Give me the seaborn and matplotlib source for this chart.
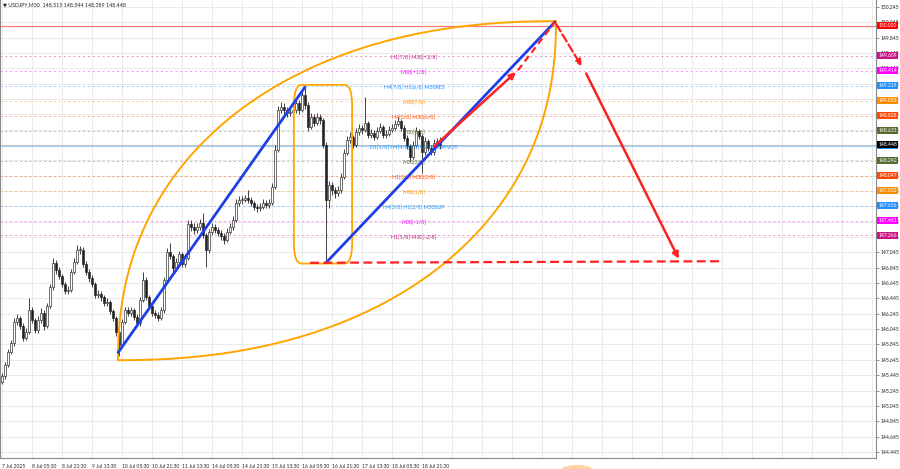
import numpy as np
import pandas as pd
import matplotlib
matplotlib.use("Agg")
import matplotlib.pyplot as plt
import seaborn as sns
from matplotlib.patches import FancyBboxPatch, Ellipse

# ---------------- data ----------------
first_open = 145.36
closes = [145.43, 145.58, 145.75, 145.86, 146.14, 146.19, 146.09, 145.93, 146.01, 146.29,
          146.16, 146.03, 146.16, 146.26, 146.09, 146.35, 146.59, 146.91, 146.82, 146.74,
          146.63, 146.54, 146.56, 146.79, 146.92, 147.08, 147.08, 146.89, 146.79, 146.71,
          146.63, 146.49, 146.50, 146.46, 146.39, 146.40, 146.28, 146.19, 146.01, 145.84,
          146.14, 146.29, 146.26, 146.29, 146.20, 146.12, 146.43, 146.69, 146.46, 146.35,
          146.26, 146.23, 146.19, 146.29, 146.69, 147.05, 147.00, 146.84, 146.92, 147.02,
          146.89, 146.97, 147.42, 147.38, 147.34, 147.38, 147.43, 147.27, 147.08, 147.31,
          147.38, 147.34, 147.30, 147.26, 147.21, 147.31, 147.38, 147.47, 147.69, 147.73,
          147.73, 147.75, 147.73, 147.69, 147.64, 147.62, 147.64, 147.69, 147.66, 147.69,
          147.90, 148.38, 148.90, 148.94, 148.90, 148.86, 148.88, 148.90, 148.99, 148.90,
          149.10, 148.97, 148.68, 148.81, 148.73, 148.81, 148.77, 148.45, 147.73, 147.92,
          147.86, 147.82, 147.86, 148.03, 148.34, 148.51, 148.55, 148.45, 148.62, 148.67,
          148.64, 148.73, 148.58, 148.60, 148.55, 148.63, 148.68, 148.58, 148.59, 148.64,
          148.67, 148.72, 148.76, 148.67, 148.54, 148.43, 148.29, 148.45, 148.63, 148.56,
          148.35, 148.50, 148.41, 148.35, 148.47, 148.50, 148.448]
highs = [145.47, 145.62, 145.79, 145.90, 146.19, 146.24, 146.22, 146.12, 146.06, 146.45,
         146.33, 146.19, 146.21, 146.32, 146.29, 146.39, 146.63, 146.97, 146.95, 146.86,
         146.77, 146.66, 146.61, 146.83, 146.97, 147.14, 147.13, 147.11, 146.93, 146.83,
         146.75, 146.66, 146.56, 146.54, 146.49, 146.45, 146.43, 146.31, 146.22, 146.04,
         146.18, 146.34, 146.33, 146.34, 146.32, 146.24, 146.47, 146.79, 146.72, 146.49,
         146.38, 146.30, 146.27, 146.33, 146.73, 147.10, 147.17, 147.03, 146.97, 147.07,
         147.05, 147.02, 147.47, 147.47, 147.43, 147.43, 147.48, 147.56, 147.30, 147.35,
         147.43, 147.42, 147.38, 147.34, 147.30, 147.36, 147.43, 147.52, 147.74, 147.78,
         147.78, 147.80, 147.86, 147.77, 147.72, 147.68, 147.69, 147.74, 147.73, 147.74,
         147.95, 148.44, 148.96, 149.01, 148.99, 148.94, 148.93, 148.96, 149.05, 149.03,
         149.15, 149.20, 149.00, 148.86, 148.85, 148.86, 148.85, 148.80, 148.48, 147.97,
         147.96, 147.90, 147.91, 148.08, 148.39, 148.56, 148.61, 148.58, 148.67, 148.72,
         148.71, 149.07, 148.76, 148.65, 148.64, 148.68, 148.73, 148.71, 148.64, 148.69,
         148.72, 148.77, 148.81, 148.79, 148.70, 148.57, 148.46, 148.50, 148.68, 148.66,
         148.59, 148.55, 148.53, 148.44, 148.52, 148.54, 148.544]
lows = [145.33, 145.40, 145.55, 145.72, 145.83, 146.10, 146.05, 145.89, 145.90, 145.98,
        146.12, 145.99, 146.00, 146.13, 146.04, 146.06, 146.32, 146.56, 146.77, 146.70,
        146.59, 146.50, 146.50, 146.53, 146.76, 146.89, 147.02, 146.85, 146.75, 146.66,
        146.59, 146.45, 146.45, 146.41, 146.35, 146.35, 146.24, 146.15, 145.96, 145.70,
        145.81, 146.11, 146.21, 146.22, 146.16, 146.08, 146.09, 146.40, 146.42, 146.31,
        146.22, 146.19, 146.15, 146.16, 146.26, 146.66, 146.96, 146.79, 146.80, 146.88,
        146.85, 146.86, 146.94, 147.33, 147.29, 147.30, 147.34, 147.23, 146.86, 147.04,
        147.27, 147.30, 147.26, 147.21, 147.16, 147.18, 147.28, 147.34, 147.44, 147.65,
        147.68, 147.70, 147.69, 147.65, 147.60, 147.57, 147.58, 147.61, 147.62, 147.63,
        147.66, 147.87, 148.35, 148.86, 148.85, 148.81, 148.82, 148.84, 148.86, 148.85,
        148.87, 148.92, 148.63, 148.65, 148.69, 148.70, 148.72, 148.40, 146.95, 147.62,
        147.80, 147.76, 147.78, 147.82, 148.00, 148.31, 148.47, 148.40, 148.42, 148.58,
        148.59, 148.61, 148.54, 148.54, 148.51, 148.52, 148.60, 148.54, 148.54, 148.56,
        148.61, 148.64, 148.69, 148.63, 148.50, 148.39, 148.24, 148.26, 148.42, 148.52,
        148.08, 148.31, 148.37, 148.31, 148.32, 148.44, 148.389]

time_labels = ["7 Jul 2025", "8 Jul 05:30", "8 Jul 21:30", "9 Jul 13:30", "10 Jul 05:30",
               "10 Jul 21:30", "11 Jul 13:30", "14 Jul 05:30", "14 Jul 21:30", "15 Jul 13:30",
               "16 Jul 05:30", "16 Jul 21:30", "17 Jul 13:30", "18 Jul 05:30", "18 Jul 21:30"]
price_ticks = [150.245, 150.045, 149.845, 149.645, 149.445, 149.245, 149.045, 148.845,
               148.645, 148.445, 148.245, 148.045, 147.845, 147.645, 147.445, 147.245,
               147.045, 146.845, 146.645, 146.445, 146.245, 146.045, 145.845, 145.645,
               145.445, 145.245, 145.045, 144.845, 144.645, 144.445]

level_prices = [149.609, 149.414, 149.219, 149.023, 148.828, 148.633, 148.438,
                148.242, 148.047, 147.852, 147.656, 147.461, 147.266]
level_names = ["H1[7/8] M30[+2/8]", "M30[+1/8]", "H4[7/8] H1[6/8] M30RES", "M30[7/8]",
               "H4[5/8] M30[6/8]", "M30[5/8]", "D1[1/8] H4[4/8] H1[4/8] M30PIVOT",
               "M30[3/8]", "H1[3/8] M30[2/8]", "M30[1/8]", "H4[3/8] H1[2/8] M30SUP",
               "M30[-1/8]", "H1[1/8] M30[-2/8]"]
level_colors = ["#c71585", "#ff00ff", "#1e90ff", "#ff8c00", "#ff4500", "#556b2f", "#1e90ff",
                "#556b2f", "#ff4500", "#ff8c00", "#1e90ff", "#ff00ff", "#c71585"]
target_price = 150.000
last_price = 148.448
title = "\u25bc USDJPY,M30  148.515 148.544 148.389 148.448"

# drawn objects (bar index, price)
lens_a = (38.67, 145.64)
lens_b = (184.67, 150.06)
lens_power = 2.2
box_x, box_w = 97.3, 19.4
box_lo, box_hi = 146.90, 149.23
trend1 = ([38.7, 101.0], [145.74, 149.20])
trend2 = ([108.0, 184.3], [146.91, 150.05])

# ---------------- figure ----------------
sns.set_style("white")
FONT = ["Lato", "DejaVu Sans"]
plt.rcParams["font.family"] = FONT
FS = 3.8
FS_AX = 3.6
fig = plt.figure(figsize=(9, 4.69), dpi=100)
ax = fig.add_axes([0.0, 11 / 469, 876 / 900, 458 / 469])
ax.set_xlim(-2 / 3, 874 / 3)
ax.set_ylim(144.365, 150.336)

n = len(closes)
xs = np.arange(n)
opens = [first_open] + closes[:-1]

# grid
for k in range(0, 30):
    ax.axvline(k * 10, color="#e6e6e6", lw=0.6, zorder=0)
for p in price_ticks:
    ax.axhline(p, color="#e6e6e6", lw=0.6, zorder=0)

# Murrey levels
for p, c in zip(level_prices, level_colors):
    if p == 148.438:
        ax.axhline(p, color="#a8d4ff", lw=0.9, zorder=1)
    else:
        ax.axhline(p, color=c, lw=0.7, ls=(0, (2, 3)), alpha=0.45, zorder=1)
ax.axhline(target_price, color="#ff7a7a", lw=0.9, zorder=1)
ax.axhline(last_price, color="#b8b8b8", lw=0.6, zorder=1)

# candles
df = pd.DataFrame({"x": xs, "o": opens, "h": highs, "l": lows, "c": closes})
ax.vlines(df.x, df.l, df.h, color="#222222", lw=0.6, zorder=3)
body_lo = np.minimum(df.o, df.c)
body_h = np.maximum(np.abs(df.c - df.o), 0.006)
fills = ["white" if c >= o else "#222222" for o, c in zip(df.o, df.c)]
ax.bar(df.x, body_h, bottom=body_lo, width=0.62, color=fills, edgecolor="#222222",
       linewidth=0.45, zorder=4)

# level labels
for p, name, c in zip(level_prices, level_names, level_colors):
    ax.text(137.3, p - 0.022, name, color=c, fontsize=FS, ha="center", va="center", zorder=6)

# orange lens (two quarter super-ellipse arcs between lens_a and lens_b)
th = np.linspace(0, np.pi / 2, 200)
ca = np.cos(th) ** (2 / lens_power)
sa = np.sin(th) ** (2 / lens_power)
dx = lens_b[0] - lens_a[0]
dy = lens_b[1] - lens_a[1]
ax.plot(lens_b[0] - dx * ca, lens_a[1] + dy * sa, color="#ffa500", lw=1.4, zorder=5)
ax.plot(lens_a[0] + dx * sa, lens_b[1] - dy * ca, color="#ffa500", lw=1.4, zorder=5)

# rounded box
box = FancyBboxPatch((box_x, box_lo), box_w, box_hi - box_lo,
                     boxstyle="round,pad=0,rounding_size=2.6", mutation_aspect=0.1,
                     fill=False, ec="#ffa500", lw=1.3, zorder=5)
ax.add_patch(box)

# blue trend lines
sns.lineplot(x=trend1[0], y=trend1[1], color="#1f3fe6", lw=2.0, ax=ax, zorder=6)
sns.lineplot(x=trend2[0], y=trend2[1], color="#1f3fe6", lw=2.0, ax=ax, zorder=6)

# red projections
ax.plot([102.7, 239.3], [146.91, 146.93], color="#ff2020", lw=1.6, ls=(0, (4, 2)), zorder=6)
ax.annotate("", xy=(172.0, 149.42), xytext=(143.3, 148.40),
            arrowprops=dict(arrowstyle="-|>", color="#ff2020", lw=1.8, mutation_scale=9), zorder=7)
ax.plot([172.0, 184.3], [149.42, 150.05], color="#ff2020", lw=1.6, ls=(0, (3, 2)), zorder=6)
ax.annotate("", xy=(193.7, 149.44), xytext=(184.3, 150.05),
            arrowprops=dict(arrowstyle="-|>", color="#ff2020", lw=1.6, ls="--", mutation_scale=9), zorder=7)
ax.annotate("", xy=(226.0, 146.93), xytext=(194.3, 149.41),
            arrowprops=dict(arrowstyle="-|>", color="#ff2020", lw=1.8, mutation_scale=9), zorder=7)

# axes styling
ax.yaxis.tick_right()
ax.set_yticks(price_ticks)
ax.set_yticklabels([f"{p:.3f}" for p in price_ticks], fontsize=FS_AX)
ax.set_xticks(np.arange(0, 150, 10))
ax.set_xticklabels(time_labels, fontsize=FS_AX, ha="left")
ax.tick_params(axis="both", length=2.5, width=0.5, color="#666666", pad=1.5)
ax.tick_params(axis="y", length=2.0, pad=1.0)
for s in ax.spines.values():
    s.set_color("#8a8a8a")
    s.set_linewidth(0.8)
ax.spines["top"].set_visible(False)

# price badges
badge_tr = ax.get_yaxis_transform()
def badge(price, color, dy=0.0, z=10):
    ax.text(1.0025, price + dy, f"{price:.3f}", transform=badge_tr, fontsize=FS_AX, color="white",
            ha="left", va="center", clip_on=False, zorder=z,
            bbox=dict(boxstyle="square,pad=0.22", fc=color, ec="none"))

for p, c in zip(level_prices, level_colors):
    badge(p, c)
badge(target_price, "#ff0000")
badge(last_price, "#000000", dy=0.008, z=11)

fig.text(0.003, 0.989, title, fontsize=FS, ha="left", va="center")

# scroll marker at the bottom edge
fig.patches.append(Ellipse((577 / 900, 0.0), 30 / 900, 8 / 469, transform=fig.transFigure,
                           fc="#ffc891", ec="none", alpha=0.8))

ax.set_xlabel("")
ax.set_ylabel("")
if ax.get_legend() is not None:
    ax.get_legend().remove()
fig.savefig("out.png", dpi=100)
